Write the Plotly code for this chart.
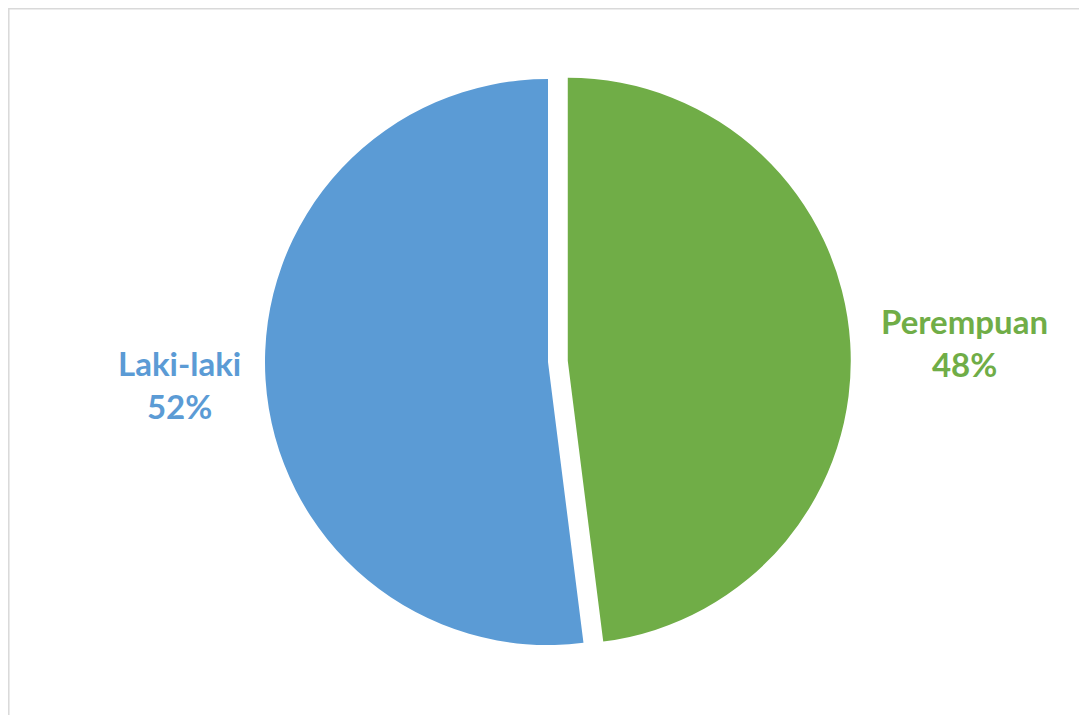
import plotly.graph_objects as go

labels = ["Perempuan", "Laki-laki"]
values = [48, 52]
colors = ["#70AD47", "#5B9BD5"]
pulls = [0.07, 0]

W, H = 1087, 715
OFF = 8  # page body margin offset


def px_x(x):
    return (x - OFF) / W


def px_y(y):
    return 1 - (y - OFF) / H


cx, cy, r = 548, 362, 283
half = r * (1 + max(pulls))

fig = go.Figure()
fig.add_trace(go.Pie(
    labels=labels,
    values=values,
    marker=dict(colors=colors, line=dict(width=0)),
    pull=pulls,
    sort=False,
    direction="clockwise",
    rotation=0,
    textinfo="none",
    hoverinfo="label+percent",
    showlegend=False,
    domain=dict(x=[px_x(cx - half), px_x(cx + half)],
                y=[px_y(cy + half), px_y(cy - half)]),
))

label_pos = {"Laki-laki": (179, 384), "Perempuan": (964, 342)}
total = sum(values)
for lab, val, col in zip(labels, values, colors):
    lx, ly = label_pos[lab]
    pct = round(100 * val / total)
    fig.add_annotation(
        x=px_x(lx), y=px_y(ly), xref="paper", yref="paper",
        xanchor="center", yanchor="middle",
        text=f"<b>{lab}<br>{pct}%</b>",
        showarrow=False,
        font=dict(family="Lato, Noto Sans, sans-serif", size=33, color=col),
        align="center",
    )

fig.add_shape(type="rect", xref="paper", yref="paper",
              x0=0.8 / W, x1=1.05, y0=-0.05, y1=1 - 0.8 / H,
              line=dict(color="#D9D9D9", width=1.5), fillcolor="rgba(0,0,0,0)", layer="below")

fig.update_layout(
    width=W, height=H,
    margin=dict(l=0, r=0, t=0, b=0),
    paper_bgcolor="white",
    plot_bgcolor="white",
)

fig.write_html("out.html")
